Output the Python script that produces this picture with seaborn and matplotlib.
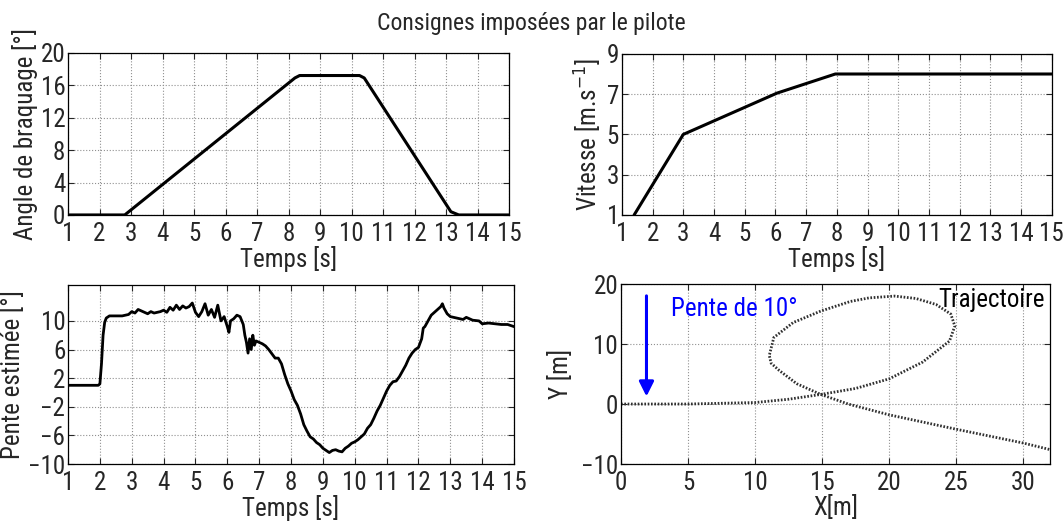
import numpy as np
import pandas as pd
import matplotlib
matplotlib.use("Agg")
import matplotlib.pyplot as plt
import seaborn as sns

# --- data ---
t_angle = [1.0, 2.8, 8.2, 8.35, 10.25, 10.4, 13.15, 13.4, 15.0]
angle = [0.0, 0.0, 16.9, 17.2, 17.2, 16.9, 0.4, 0.0, 0.0]

t_speed = [1.4, 3.0, 6.05, 7.95, 15.0]
speed = [1.0, 5.0, 7.05, 8.0, 8.0]

t_slope = [1.0, 1.5, 1.95, 2.0, 2.05, 2.1, 2.15, 2.2, 2.3, 2.5, 2.7, 2.9,
           3.0, 3.1, 3.2, 3.3, 3.5, 3.6, 3.7, 3.9, 4.0, 4.1, 4.2, 4.3, 4.4,
           4.5, 4.6, 4.7, 4.8, 4.9, 5.0, 5.1, 5.2, 5.3, 5.4, 5.5, 5.6, 5.7,
           5.8, 5.9, 6.0, 6.05, 6.1, 6.2, 6.3, 6.4, 6.5, 6.55, 6.6, 6.65,
           6.7, 6.75, 6.8, 6.85, 6.9, 7.0, 7.1, 7.2, 7.3, 7.4, 7.5, 7.6, 7.7,
           7.8, 7.9, 8.0, 8.1, 8.2, 8.3, 8.4, 8.5, 8.6, 8.7, 8.8, 8.9, 9.0,
           9.1, 9.2, 9.3, 9.4, 9.5, 9.6, 9.7, 9.8, 9.9, 10.0, 10.1, 10.2,
           10.3, 10.4, 10.5, 10.6, 10.7, 10.8, 10.9, 11.0, 11.1, 11.2, 11.3,
           11.4, 11.5, 11.6, 11.7, 11.8, 11.9, 12.0, 12.1, 12.15, 12.2, 12.3,
           12.4, 12.5, 12.6, 12.7, 12.75, 12.8, 12.9, 13.0, 13.2, 13.4, 13.5,
           13.7, 13.9, 14.0, 14.2, 14.4, 14.6, 14.8, 15.0]
slope = [1.0, 1.0, 1.0, 1.2, 4.0, 8.0, 9.8, 10.4, 10.7, 10.7, 10.7, 10.9,
         11.3, 11.1, 11.6, 11.4, 11.0, 11.3, 11.1, 11.3, 11.5, 11.2, 11.9,
         11.5, 12.2, 11.6, 12.1, 11.8, 12.0, 12.5, 11.2, 10.6, 11.3, 12.4,
         10.8, 11.6, 10.5, 12.2, 10.0, 10.6, 9.2, 8.4, 10.0, 10.3, 10.8,
         10.6, 9.5, 8.0, 7.0, 5.5, 7.5, 6.0, 8.0, 6.6, 7.2, 7.0, 6.8, 6.5,
         6.0, 5.4, 4.8, 4.8, 4.0, 2.5, 1.2, 0.2, -1.0, -1.8, -3.0, -4.5,
         -5.4, -6.2, -6.5, -7.0, -7.3, -7.8, -8.1, -8.4, -8.1, -8.0, -8.2,
         -8.3, -7.8, -7.5, -7.1, -6.9, -6.6, -6.2, -5.8, -5.0, -4.5, -3.6,
         -2.6, -1.8, -0.8, 0.2, 1.0, 1.5, 1.6, 2.2, 3.0, 3.8, 4.8, 5.5, 6.0,
         6.3, 7.5, 9.0, 9.2, 10.0, 10.8, 11.2, 11.6, 12.0, 12.4, 11.8, 11.0,
         10.6, 10.4, 10.2, 10.5, 10.1, 10.0, 9.6, 9.7, 9.6, 9.5, 9.5, 9.2]

traj_x = [0.0, 5.0, 10.0, 12.5, 14.9, 17.5, 20.0, 22.5, 24.5, 24.9, 24.6,
          23.5, 22.0, 20.4, 18.5, 17.1, 14.9, 12.85, 11.4, 11.06, 11.2,
          11.8, 13.1, 14.9, 16.95, 20.0, 25.0, 30.0, 32.0]
traj_y = [0.0, 0.0, 0.25, 0.8, 1.6, 2.6, 4.2, 7.0, 10.5, 13.0, 15.0,
          16.6, 17.6, 18.0, 17.7, 17.1, 15.5, 13.6, 11.1, 8.1, 6.8,
          5.6, 3.4, 1.6, 0.0, -1.8, -4.2, -6.5, -7.6]

sns.set_style("ticks")
plt.rcParams['font.family'] = ['Roboto Condensed', 'DejaVu Sans']
plt.rcParams['font.stretch'] = 'condensed'
FS = 18

fig = plt.figure(figsize=(10.63, 5.23), dpi=100)
ax1 = fig.add_axes([0.064, 0.589, 0.415, 0.310])
ax2 = fig.add_axes([0.585, 0.589, 0.4045, 0.308])
ax3 = fig.add_axes([0.064, 0.1128, 0.4196, 0.342])
ax4 = fig.add_axes([0.5842, 0.1128, 0.4036, 0.344])


def matlab_box(ax):
    for s in ax.spines.values():
        s.set_visible(True)
        s.set_color('black')
        s.set_linewidth(0.9)
    ax.tick_params(direction='in', length=4, labelsize=FS, top=True, right=True,
                   pad=2)
    ax.tick_params(axis='x', pad=5)
    ax.grid(True, linestyle=':', color='#909090', linewidth=0.8)
    ax.set_axisbelow(True)


sns.lineplot(x=t_angle, y=angle, ax=ax1, color='black', linewidth=2.2)
ax1.set_xlim(1, 15)
ax1.set_ylim(0, 20)
ax1.set_xticks(range(1, 16))
ax1.set_yticks([0, 4, 8, 12, 16, 20])
ax1.set_ylabel('Angle de braquage [°]', fontsize=FS, labelpad=2)

sns.lineplot(x=t_speed, y=speed, ax=ax2, color='black', linewidth=2.2)
ax2.set_xlim(1, 15)
ax2.set_ylim(1, 9)
ax2.set_xticks(range(1, 16))
ax2.set_yticks([1, 3, 5, 7, 9])
ax2.set_ylabel('Vitesse [m.s$^{-1}$]', fontsize=FS, labelpad=2)

sns.lineplot(x=t_slope, y=slope, ax=ax3, color='black', linewidth=2.0)
ax3.set_xlim(1, 15)
ax3.set_ylim(-10, 15)
ax3.set_xticks(range(1, 16))
ax3.set_yticks([-10, -6, -2, 2, 6, 10])
ax3.set_ylabel('Pente estimée [°]', fontsize=FS, labelpad=2)

for ax in (ax1, ax2, ax3):
    ax.set_xlabel('Temps [s]', fontsize=FS, labelpad=0)

traj = pd.DataFrame({'x': traj_x, 'y': traj_y})
sns.lineplot(data=traj, x='x', y='y', sort=False, estimator=None, ax=ax4,
             color='#303030', linewidth=2.0, linestyle=(0, (0.6, 0.6)))
ax4.set_xlim(0, 32)
ax4.set_ylim(-10, 20)
ax4.set_xticks([0, 5, 10, 15, 20, 25, 30])
ax4.set_yticks([-10, 0, 10, 20])
ax4.set_xlabel('X[m]', fontsize=FS, labelpad=0)
ax4.set_ylabel('Y [m]', fontsize=FS, labelpad=6)
ax4.annotate('', xy=(1.9, 0.8), xytext=(1.9, 18.5),
             arrowprops=dict(arrowstyle='-|>', color='blue', lw=2.2,
                             mutation_scale=22))
ax4.text(3.7, 15.8, 'Pente de 10°', color='blue', fontsize=FS, va='center')
ax4.text(31.6, 17.4, 'Trajectoire', color='black', fontsize=FS, va='center',
         ha='right')

for ax in (ax1, ax2, ax3, ax4):
    matlab_box(ax)

fig.suptitle('Consignes imposées par le pilote', fontsize=17, y=0.978)

fig.savefig('out.png', dpi=100)
